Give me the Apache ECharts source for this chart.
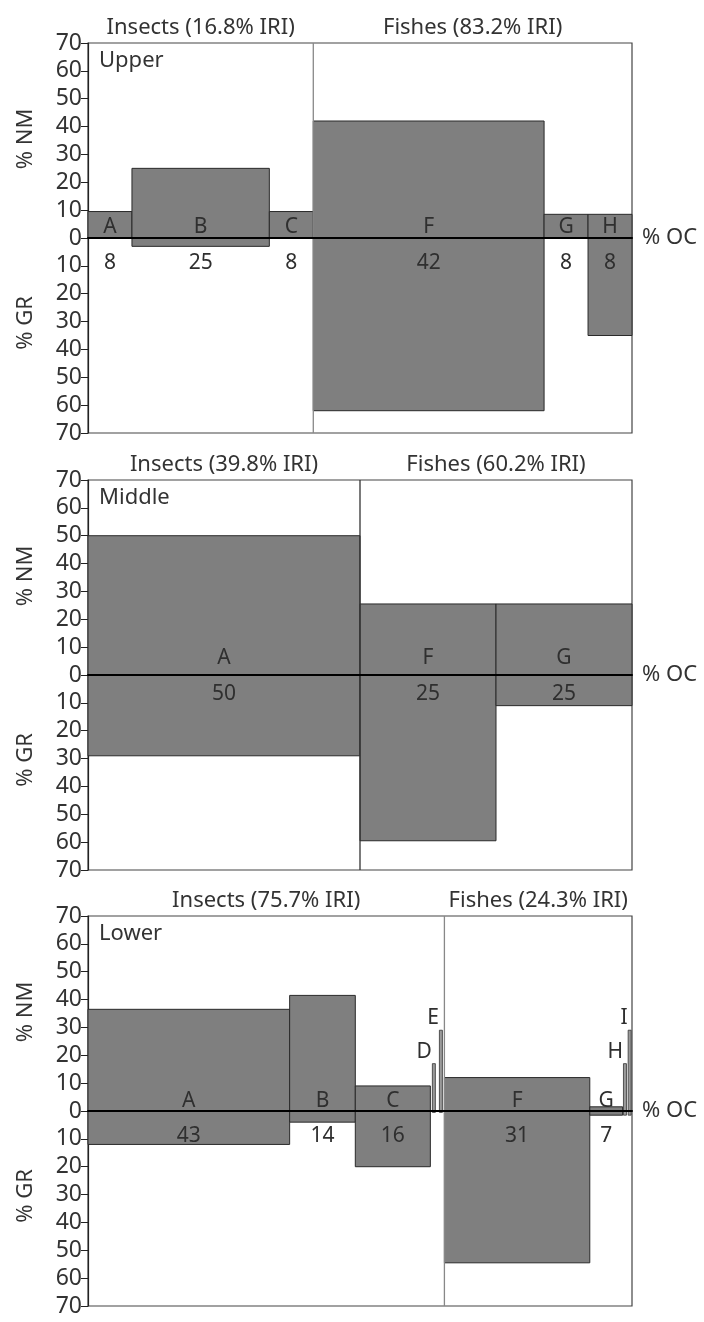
<!DOCTYPE html>
<html>
<head>
<meta charset="utf-8">
<script src="https://cdn.jsdelivr.net/npm/echarts@6/dist/echarts.min.js"></script>
<style>
  html, body { margin: 0; padding: 0; background: #fff; }
  #chart { width: 704px; height: 1322px; }
</style>
</head>
<body>
<div id="chart"></div>
<script>
// ---------------- DATA ----------------
const yTicks = [70, 60, 50, 40, 30, 20, 10, 0, 10, 20, 30, 40, 50, 60, 70];

const upperItems = ['A', 'B', 'C', 'F', 'G', 'H'];
const upperOC = [8, 25, 8, 42, 8, 8];
const upperNM = [9.5, 25, 9.5, 42, 8.5, 8.5];
const upperGR = [0, 3, 0, 62, 0, 35];
const upperGroups = ['Insects (16.8% IRI)', 'Fishes (83.2% IRI)'];
const upperGroupSizes = [3, 3];

const middleItems = ['A', 'F', 'G'];
const middleOC = [50, 25, 25];
const middleNM = [50, 25.5, 25.5];
const middleGR = [29, 59.5, 11];
const middleGroups = ['Insects (39.8% IRI)', 'Fishes (60.2% IRI)'];
const middleGroupSizes = [1, 2];

const lowerItems = ['A', 'B', 'C', 'D', 'E', 'F', 'G', 'H', 'I'];
const lowerOC = [43, 14, 16, 1.5, 1.5, 31, 7, 1, 1];
const lowerNM = [36.5, 41.5, 9, 17, 29, 12, 1.5, 17, 29];
const lowerGR = [12, 4, 20, 0.5, 0.5, 54.5, 1.5, 1.5, 1.5];
const lowerGroups = ['Insects (75.7% IRI)', 'Fishes (24.3% IRI)'];
const lowerGroupSizes = [5, 4];

const panelNames = ['Upper', 'Middle', 'Lower'];

// ---------------- LAYOUT ----------------
const FONT = '"Noto Sans", "Open Sans", sans-serif';
const TXT = '#333';
const GRID_LEFT = 88, GRID_W = 544, GRID_H = 390;
const layout = [
  { top: 43, letterDy: -11, numDy: 25, divColor: '#888' },
  { top: 480, letterDy: -17, numDy: 19, divColor: '#333' },
  { top: 916, letterDy: -10, numDy: 25, divColor: '#888' }
];

const panels = [
  { items: upperItems, oc: upperOC, nm: upperNM, gr: upperGR, groups: upperGroups, sizes: upperGroupSizes },
  { items: middleItems, oc: middleOC, nm: middleNM, gr: middleGR, groups: middleGroups, sizes: middleGroupSizes },
  { items: lowerItems, oc: lowerOC, nm: lowerNM, gr: lowerGR, groups: lowerGroups, sizes: lowerGroupSizes }
];

const grids = [], xAxes = [], yAxes = [], series = [], graphics = [];

panels.forEach((p, k) => {
  const L = layout[k];
  grids.push({
    left: GRID_LEFT, top: L.top, width: GRID_W, height: GRID_H,
    show: true, borderColor: '#444', borderWidth: 1.2, backgroundColor: 'transparent'
  });
  const starts = [];
  let acc = 0;
  p.oc.forEach(v => { starts.push(acc); acc += v; });
  const total = acc;

  xAxes.push({
    gridIndex: k, type: 'value', min: 0, max: total, z: 10,
    axisLine: { show: true, onZero: true, lineStyle: { color: '#000', width: 2 } },
    axisTick: { show: false }, axisLabel: { show: false }, splitLine: { show: false },
    name: '% OC', nameLocation: 'end', nameGap: 10,
    nameTextStyle: { fontFamily: FONT, fontSize: 22, color: TXT }
  });
  yAxes.push({
    gridIndex: k, type: 'value', min: -70, max: 70, interval: 10,
    axisLine: { show: true, lineStyle: { color: '#222', width: 1.2 } },
    axisTick: { show: true, inside: false, length: 7, lineStyle: { color: '#222' } },
    splitLine: { show: false },
    axisLabel: {
      fontFamily: FONT, fontSize: 23, color: TXT, margin: 6,
      formatter: v => String(yTicks[Math.round((70 - v) / 10)])
    }
  });

  const barData = p.oc.map((v, i) => [starts[i], starts[i] + v, p.nm[i], -p.gr[i]]);
  series.push({
    type: 'custom', xAxisIndex: k, yAxisIndex: k, z: 3,
    data: barData,
    renderItem: function (params, api) {
      const i = params.dataIndex;
      const a = api.coord([api.value(0), api.value(2)]);
      const b = api.coord([api.value(1), api.value(3)]);
      const z = api.coord([api.value(0), 0])[1];
      const w = b[0] - a[0];
      const cx = (a[0] + b[0]) / 2;
      const children = [];
      const thin = w < 10;
      if (!thin) {
        children.push({
          type: 'rect', shape: { x: a[0], y: a[1], width: w, height: b[1] - a[1] },
          style: { fill: '#7f7f7f', stroke: '#2a2a2a', lineWidth: 1 }
        });
        children.push({
          type: 'text', z2: 5,
          style: { x: cx, y: z + L.letterDy, text: p.items[i], align: 'center', verticalAlign: 'middle',
                   fontFamily: FONT, fontSize: 21, fill: '#2f2f2f' }
        });
        children.push({
          type: 'text', z2: 5,
          style: { x: cx, y: z + L.numDy, text: String(p.oc[i]), align: 'center', verticalAlign: 'middle',
                   fontFamily: FONT, fontSize: 21, fill: '#2f2f2f' }
        });
      } else {
        children.push({
          type: 'rect', shape: { x: cx - 1.5, y: a[1], width: 3, height: b[1] - a[1] },
          style: { fill: '#9a9a9a', stroke: '#333', lineWidth: 0.8 }
        });
        children.push({
          type: 'text', z2: 5,
          style: { x: cx - 2, y: a[1] - 12, text: p.items[i], align: 'right', verticalAlign: 'middle',
                   fontFamily: FONT, fontSize: 21, fill: '#2f2f2f' }
        });
      }
      return { type: 'group', children: children };
    }
  });

  const gData = [];
  let gi = 0;
  p.sizes.forEach(s => {
    const gs = starts[gi];
    const ge = starts[gi + s - 1] + p.oc[gi + s - 1];
    gData.push([gs, ge]);
    gi += s;
  });
  series.push({
    type: 'custom', xAxisIndex: k, yAxisIndex: k, z: 4,
    data: gData,
    renderItem: function (params, api) {
      const j = params.dataIndex;
      const s = api.value(0), e = api.value(1);
      const top = api.coord([s, 70]);
      const bot = api.coord([s, -70]);
      const mid = api.coord([(s + e) / 2, 70]);
      const children = [{
        type: 'text',
        style: { x: mid[0], y: mid[1] - 15, text: p.groups[j], align: 'center', verticalAlign: 'middle',
                 fontFamily: FONT, fontSize: 22, fill: TXT }
      }];
      if (j > 0) {
        children.push({
          type: 'line', shape: { x1: top[0], y1: top[1], x2: bot[0], y2: bot[1] },
          style: { stroke: L.divColor, lineWidth: 1.3 }
        });
      }
      return { type: 'group', children: children };
    }
  });

  graphics.push({
    type: 'text', left: GRID_LEFT + 11, top: L.top + 7,
    style: { text: panelNames[k], fontFamily: FONT, fontSize: 22, fill: TXT }
  });
  graphics.push({
    type: 'text', x: 26, y: L.top + 96, rotation: Math.PI / 2,
    style: { text: '% NM', align: 'center', verticalAlign: 'middle', fontFamily: FONT, fontSize: 22, fill: TXT }
  });
  graphics.push({
    type: 'text', x: 26, y: L.top + 280, rotation: Math.PI / 2,
    style: { text: '% GR', align: 'center', verticalAlign: 'middle', fontFamily: FONT, fontSize: 22, fill: TXT }
  });
});

const chart = echarts.init(document.getElementById('chart'), null, { renderer: 'canvas' });
chart.setOption({
  animation: false,
  backgroundColor: '#fff',
  grid: grids,
  xAxis: xAxes,
  yAxis: yAxes,
  series: series,
  graphic: graphics
});
</script>
</body>
</html>
